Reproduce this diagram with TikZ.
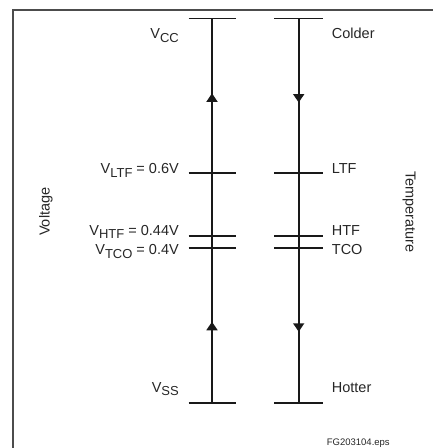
\documentclass[tikz,border=0pt]{standalone}
\usepackage{fontspec}
\setmainfont{Liberation Sans}
\usetikzlibrary{arrows.meta,decorations.markings}

\newcommand{\vsub}[1]{V\raisebox{-3.8pt}{\fontsize{13}{15}\selectfont #1}}

\begin{document}
\begin{tikzpicture}[
    x=1pt, y=1pt,
    axis/.style={line width=1.6pt, color=black!90},
    tck/.style={line width=1.6pt, color=black!90},
    frm/.style={line width=1.4pt, color=black!70},
    lbl/.style={font=\fontsize{14.5}{17}\selectfont, inner sep=0pt, text=black!85},
    rise/.style={postaction={decorate}, decoration={markings,
        mark=at position 0.212 with {\arrow{Triangle[width=11pt,length=8.5pt]}},
        mark=at position 0.806 with {\arrow{Triangle[width=11pt,length=8.5pt]}}}},
    fall/.style={postaction={decorate}, decoration={markings,
        mark=at position 0.218 with {\arrow{Triangle[width=11pt,length=8.5pt]}},
        mark=at position 0.814 with {\arrow{Triangle[width=11pt,length=8.5pt]}}}}
]
% page is 433 x 448, y measured up from the bottom
\useasboundingbox (0,0) rectangle (433,448);
\draw[frm] (13,0) -- (13,438) -- (433,438);

% axis ends
\coordinate (vcc) at (212,429.3);
\coordinate (vss) at (212,44.7);
\coordinate (cold) at (298.7,429.3);
\coordinate (hot) at (298.7,44.7);

\foreach \y in {429.3,275,212,199.7,44.7}{
  \draw[tck] (188.7,\y) -- (236.3,\y);
  \draw[tck] (274,\y) -- (322.7,\y);
}

\draw[axis, rise] (vss) -- (vcc);
\draw[axis, fall] (cold) -- (hot);

% voltage side
\node[lbl, anchor=base east] (lvcc) at (179,409.5) {\vsub{CC}};
\node[lbl, anchor=base east] (lltf) at (179,274.5) {\vsub{LTF} = 0.6V};
\node[lbl, anchor=base east] (lhtf) at (179,212.8) {\vsub{HTF} = 0.44V};
\node[lbl, anchor=base east] (ltco) at (179,193.5) {\vsub{TCO} = 0.4V};
\node[lbl, anchor=base east] (lvss) at (179,56) {\vsub{SS}};

% temperature side
\node[lbl, anchor=base west] (rcold) at (331.7,409.5) {Colder};
\node[lbl, anchor=base west] (rltf) at (331.7,274.5) {LTF};
\node[lbl, anchor=base west] (rhtf) at (331.7,212.8) {HTF};
\node[lbl, anchor=base west] (rtco) at (331.7,193.5) {TCO};
\node[lbl, anchor=base west] (rhot) at (331.7,56) {Hotter};

\node[lbl, rotate=90] (volt) at (46,236.3) {Voltage};
\node[lbl, rotate=-90] (temp) at (409,236) {Temperature};
\node[lbl, font=\fontsize{9.5}{11}\selectfont, anchor=base] (fig) at (358.3,2.5) {FG203104.eps};
\end{tikzpicture}
\end{document}
